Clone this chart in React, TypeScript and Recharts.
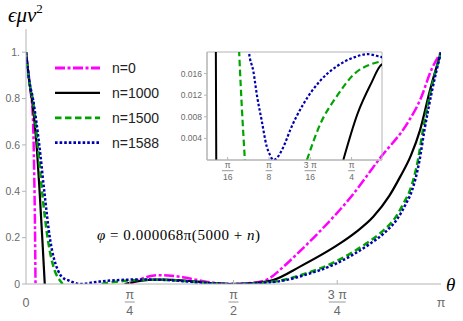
import { LineChart, Line, XAxis, YAxis, ReferenceArea } from 'recharts';

const PI = Math.PI;

// theta, value pairs; null breaks the line where the curve dips below 0
type Pt = [number, number | null];

const seriesNames = ['n=0', 'n=1000', 'n=1500', 'n=1588'];
const seriesColors = ['#ff00ff', '#000000', '#00a400', '#0000b0'];
const seriesDash = ['10 2.5 3 2.5', '', '6.5 3.5', '2.6 2'];

const n0: Pt[] = [
  [0, 1], [0.027, 0.865], [0.052, 0.72], [0.062, 0.48], [0.068, 0.25], [0.072, 0], [0.4, null],
  [0.785, 0], [0.85, 0.017], [0.92, 0.031], [1.0, 0.038], [1.1, 0.036], [1.2, 0.028], [1.3, 0.017],
  [1.4, 0.007], [1.5, 0.0015], [1.571, 0], [1.7, 0.004], [1.824, 0.019], [1.95, 0.075], [2.051, 0.129],
  [2.226, 0.228], [2.453, 0.371], [2.68, 0.543], [2.892, 0.698], [2.983, 0.793], [3.074, 0.931], [PI, 1],
];

const n1000: Pt[] = [
  [0, 1], [0.027, 0.865], [0.052, 0.765], [0.077, 0.62], [0.104, 0.39], [0.124, 0.19], [0.142, 0], [0.4, null],
  [0.746, 0], [0.813, 0.0085], [0.876, 0.014], [0.929, 0.0177], [1.0, 0.0185], [1.1, 0.018], [1.2, 0.015],
  [1.3, 0.01], [1.4, 0.004], [1.5, 0.001], [1.571, 0], [1.7, 0.003], [1.87, 0.017], [2.074, 0.075],
  [2.377, 0.175], [2.5, 0.225], [2.627, 0.289], [2.75, 0.38], [2.831, 0.461], [2.914, 0.555], [2.983, 0.664],
  [3.058, 0.836], [PI, 1],
];

const n1500: Pt[] = [
  [0, 1], [0.027, 0.865], [0.052, 0.793], [0.09, 0.592], [0.123, 0.391], [0.166, 0.19], [0.216, 0.06],
  [0.251, 0.02], [0.278, 0], [0.4, null],
  [0.573, 0], [0.637, 0.0067], [0.717, 0.0119], [0.797, 0.0159], [0.876, 0.0177], [0.929, 0.0182],
  [1.0, 0.0182], [1.1, 0.0168], [1.2, 0.013], [1.3, 0.008], [1.4, 0.003], [1.5, 0.0006], [1.571, 0],
  [1.7, 0.002], [1.82, 0.007], [1.945, 0.017], [2.1, 0.042], [2.324, 0.091], [2.581, 0.177], [2.7, 0.228],
  [2.793, 0.284], [2.86, 0.35], [2.907, 0.405], [2.967, 0.534], [3.005, 0.664], [3.066, 0.836], [PI, 1],
];

const n1588: Pt[] = [
  [0, 1], [0.027, 0.87], [0.052, 0.8], [0.102, 0.592], [0.14, 0.391], [0.183, 0.19], [0.241, 0.06],
  [0.298, 0.0198], [0.318, 0.0165], [0.337, 0.0116], [0.358, 0.0073], [0.382, 0.0025], [0.398, 0.0009],
  [0.413, 0], [0.429, 0.0003], [0.445, 0.0012], [0.469, 0.0031], [0.493, 0.0055], [0.557, 0.0104],
  [0.637, 0.0147], [0.717, 0.0174], [0.797, 0.019], [0.861, 0.0196], [0.924, 0.0191], [1.0, 0.0185],
  [1.1, 0.016], [1.2, 0.012], [1.3, 0.007], [1.4, 0.003], [1.5, 0.0005], [1.571, 0], [1.7, 0.002],
  [1.82, 0.006], [1.96, 0.016], [2.1, 0.037], [2.347, 0.088], [2.6, 0.172], [2.72, 0.224], [2.81, 0.28],
  [2.875, 0.345], [2.92, 0.4], [2.978, 0.53], [3.015, 0.66], [3.074, 0.835], [PI, 1],
];

const seriesPts = [n0, n1000, n1500, n1588];
const insetSeries = [1, 2, 3]; // n=0 is not drawn in the inset

const mainXTicks = [0, PI / 4, PI / 2, (3 * PI) / 4, PI];
const mainXLabels = [['0'], ['π', '4'], ['π', '2'], ['3 π', '4'], ['π']];
const mainYTicks = [0, 0.2, 0.4, 0.6, 0.8, 1];

const insetXTicks = [PI / 16, PI / 8, (3 * PI) / 16, PI / 4];
const insetXLabels = [['π', '16'], ['π', '8'], ['3 π', '16'], ['π', '4']];
const insetYTicks = [0.004, 0.008, 0.012, 0.016];

const axisGray = '#b4b4b4';
const labelGray = '#6a6a6a';
const sans = 'Liberation Sans, Arial, sans-serif';
const serif = 'Liberation Serif, DejaVu Serif, serif';

const toData = (pts: Pt[]) => pts.map(([t, v]) => ({ t, v }));

const makeFracTick = (ticks: number[], labels: string[][], fs: number, o: number[]) => (props: any) => {
  const { x, y, payload } = props;
  const i = ticks.findIndex((t) => Math.abs(t - payload.value) < 1e-6);
  const lab = labels[i] || [''];
  const txt = { fill: labelGray, fontSize: fs, fontFamily: sans, textAnchor: 'middle' as const };
  if (lab.length === 1) {
    return <text x={x} y={y + o[3]} {...txt}>{lab[0]}</text>;
  }
  const w = lab[0].length > 1 || lab[1].length > 1 ? fs * 1.35 : fs * 0.8;
  return (
    <g>
      <line x1={x} x2={x} y1={y} y2={y + o[4]} stroke={axisGray} />
      <text x={x} y={y + o[0]} {...txt}>{lab[0]}</text>
      <line x1={x - w / 2} x2={x + w / 2} y1={y + o[1]} y2={y + o[1]} stroke={labelGray} strokeWidth={0.7} />
      <text x={x} y={y + o[2]} {...txt}>{lab[1]}</text>
    </g>
  );
};

const MainXTick = makeFracTick(mainXTicks, mainXLabels, 12.5, [14.7, 18, 31, 22.7, -4]);
const InsetXTick = makeFracTick(insetXTicks, insetXLabels, 8.5, [8, 10.7, 19.8, 14, -3]);

const App = () => {
  return (
    <div style={{ position: 'absolute', left: 0, top: 0, width: 463, height: 321, background: '#fff' }}>
      <LineChart width={463} height={321} margin={{ top: 29, right: 22, bottom: 7, left: 0 }}>
        <XAxis
          dataKey="t"
          type="number"
          domain={[0, PI]}
          ticks={mainXTicks}
          interval={0}
          allowDataOverflow
          stroke={axisGray}
          tickLine={false}
          tickSize={0}
          tickMargin={0}
          height={30}
          tick={MainXTick}
        />
        <YAxis
          type="number"
          domain={[0, 1.1]}
          ticks={mainYTicks}
          interval={0}
          allowDataOverflow
          width={26}
          stroke={axisGray}
          tickSize={4}
          tickMargin={2}
          tickFormatter={(v: number) => (v === 0 ? '0' : v === 1 ? '1.' : String(v))}
          tick={{ fill: labelGray, fontSize: 10.5, fontFamily: sans }}
        />
        {seriesPts.map((pts, i) => (
          <Line
            key={seriesNames[i]}
            data={toData(pts)}
            dataKey="v"
            name={seriesNames[i]}
            type="monotone"
            stroke={seriesColors[i]}
            strokeWidth={i === 1 ? 2.2 : 2.5}
            strokeDasharray={seriesDash[i] || undefined}
            dot={false}
            isAnimationActive={false}
          />
        ))}
      </LineChart>

      <div style={{ position: 'absolute', left: 170, top: 40 }}>
        <LineChart width={220} height={160} margin={{ top: 12, right: 8, bottom: 5, left: 0 }}>
          <XAxis
            dataKey="t"
            type="number"
            domain={[0.098, 0.93]}
            ticks={insetXTicks}
            interval={0}
            allowDataOverflow
            stroke={axisGray}
            tickLine={false}
            tickSize={0}
            tickMargin={0}
            height={35}
            tick={InsetXTick}
          />
          <YAxis
            type="number"
            domain={[0, 0.02]}
            ticks={insetYTicks}
            interval={0}
            allowDataOverflow
            width={37}
            stroke={axisGray}
            tickSize={3}
            tickMargin={2}
            tickFormatter={(v: number) => v.toFixed(3)}
            tick={{ fill: labelGray, fontSize: 8.5, fontFamily: sans }}
          />
          <ReferenceArea x1={0.098} x2={0.93} y1={0} y2={0.02} fill="none" stroke={axisGray} />
          {insetSeries.map((i) => (
            <Line
              key={seriesNames[i]}
              data={toData(seriesPts[i])}
              dataKey="v"
              type="monotone"
              stroke={seriesColors[i]}
              strokeWidth={i === 1 ? 2 : 2.2}
              strokeDasharray={seriesDash[i] || undefined}
              dot={false}
              isAnimationActive={false}
            />
          ))}
        </LineChart>
      </div>

      <svg width={463} height={321} style={{ position: 'absolute', left: 0, top: 0, pointerEvents: 'none' }}>
        <text x={8} y={22} fontFamily={serif} fontStyle="italic" fontSize={21} fill="#000">
          ϵμv<tspan dy={-9} fontSize={13} fontStyle="normal">2</tspan>
        </text>
        <text x={446} y={291} fontFamily={serif} fontStyle="italic" fontSize={19} fill="#000">θ</text>
        <text x={97} y={240} fontFamily={serif} fontSize={15} fill="#000" textLength={163} lengthAdjust="spacing">
          <tspan fontStyle="italic">φ</tspan> = 0.000068π(5000 + <tspan fontStyle="italic">n</tspan>)
        </text>
        {seriesNames.map((name, i) => {
          const y = 68 + i * 24.9;
          return (
            <g key={name}>
              <line x1={55} x2={100} y1={y} y2={y} stroke={seriesColors[i]} strokeWidth={i === 1 ? 2.4 : 2.8}
                strokeDasharray={seriesDash[i] || undefined} />
              <text x={112} y={y + 5} fontFamily={sans} fontSize={14} fill="#222">{name}</text>
            </g>
          );
        })}
      </svg>
    </div>
  );
};

export default App;
